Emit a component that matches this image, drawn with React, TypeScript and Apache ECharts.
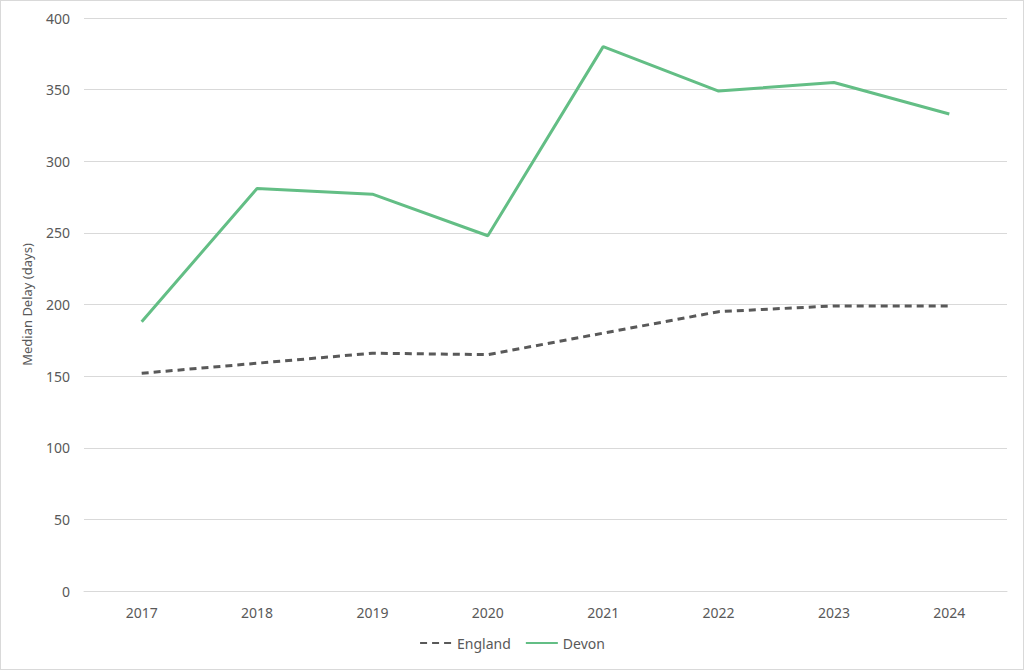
import { useEffect, useRef } from "react"
import * as echarts from "echarts"

const years = ["2017", "2018", "2019", "2020", "2021", "2022", "2023", "2024"]
const england = [152, 159, 166, 165, 180, 195, 199, 199]
const devon = [188, 281, 277, 248, 380, 349, 355, 333]

const FONT = "'Noto Sans', 'Open Sans', sans-serif"
const TEXT = "#595959"

export default function App() {
  const chartRef = useRef<HTMLDivElement>(null)

  useEffect(() => {
    if (!chartRef.current) return
    document.body.style.margin = "0"
    const chart = echarts.init(chartRef.current, null, { renderer: "svg" })

    const option: echarts.EChartsOption = {
      animation: false,
      backgroundColor: "#ffffff",
      textStyle: { fontFamily: FONT },
      grid: { left: 83, right: 16, top: 17, bottom: 78 },
      legend: {
        bottom: 14,
        left: "center",
        itemWidth: 32,
        itemGap: 14,
        itemStyle: { opacity: 0 },
        textStyle: { color: TEXT, fontSize: 14, fontFamily: FONT },
        data: ["England", "Devon"],
      },
      xAxis: {
        type: "category",
        data: years,
        axisLine: { lineStyle: { color: "#d9d9d9" } },
        axisTick: { show: false },
        axisLabel: { color: TEXT, fontSize: 14, margin: 14, fontFamily: FONT },
      },
      yAxis: {
        type: "value",
        min: 0,
        max: 400,
        interval: 50,
        name: "Median Delay (days)",
        nameLocation: "middle",
        nameGap: 51,
        nameTextStyle: { color: TEXT, fontSize: 13, fontFamily: FONT },
        axisLine: { show: false },
        axisTick: { show: false },
        axisLabel: { color: TEXT, fontSize: 14, margin: 14, fontFamily: FONT },
        splitLine: { lineStyle: { color: "#d9d9d9", width: 1 } },
      },
      series: [
        {
          name: "England",
          type: "line",
          data: england,
          symbol: "none",
          color: "#595959",
          lineStyle: { color: "#595959", width: 3, type: [7, 5] },
        },
        {
          name: "Devon",
          type: "line",
          data: devon,
          symbol: "none",
          color: "#63be85",
          lineStyle: { color: "#63be85", width: 3 },
        },
      ],
    }

    chart.setOption(option)
    return () => chart.dispose()
  }, [])

  return (
    <div
      ref={chartRef}
      style={{
        position: "absolute",
        top: 0,
        left: 0,
        width: 1024,
        height: 670,
        boxSizing: "border-box",
        border: "1px solid #d9d9d9",
      }}
    />
  )
}
